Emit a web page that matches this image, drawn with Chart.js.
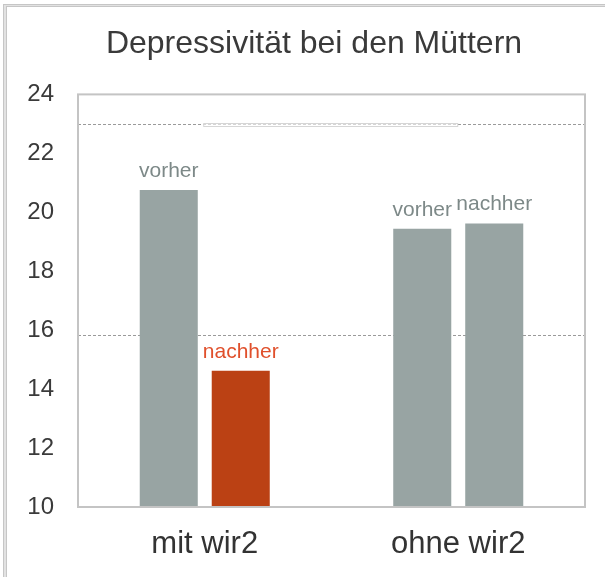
<!DOCTYPE html>
<html>
<head>
<meta charset="utf-8">
<script src="https://cdn.jsdelivr.net/npm/chart.js@4/dist/chart.umd.min.js"></script>
<style>
  html, body { margin: 0; padding: 0; background: #ffffff; }
  #wrap { position: relative; width: 605px; height: 577px; }
</style>
</head>
<body>
<div id="wrap"><canvas id="c" width="605" height="577"></canvas></div>
<script>
const categories = ['mit wir2', 'ohne wir2'];
const seriesNames = ['vorher', 'nachher'];
const vorherValues = [20.76, 19.44];
const nachherValues = [14.62, 19.62];
const yTicks = [10, 12, 14, 16, 18, 20, 22, 24];
const refLines = [23.0, 15.83];
const titleText = 'Depressivität bei den Müttern';

const GRAY = '#98a4a3';
const RED = '#bb4114';
const FONT = "'Liberation Sans', Arial, sans-serif";

const decorPlugin = {
  id: 'decor',
  beforeDraw(chart) {
    const ctx = chart.ctx;
    const W = chart.width, H = chart.height;
    ctx.save();
    // outer frame (left + top)
    ctx.fillStyle = '#e2e2e2';
    ctx.fillRect(3, 4, 4, H - 4);
    ctx.fillRect(3, 4, W - 3, 3);
    ctx.fillStyle = '#c6c6c6';
    ctx.fillRect(3, 4, 1, H - 4);
    ctx.fillRect(3, 4, W - 3, 1);
    ctx.fillRect(6, 7, 1, H - 7);
    ctx.fillRect(6, 6, W - 6, 1);
    // reference dashed lines
    const a = chart.chartArea;
    const y = chart.scales.y;
    ctx.strokeStyle = '#9a9a9a';
    ctx.lineWidth = 1;
    ctx.setLineDash([3, 2]);
    refLines.forEach(v => {
      const py = Math.round(y.getPixelForValue(v)) + 0.5;
      ctx.beginPath();
      ctx.moveTo(a.left, py);
      ctx.lineTo(a.right, py);
      ctx.stroke();
    });
    ctx.setLineDash([]);
    // small white box artifact over the upper line
    const py = Math.round(y.getPixelForValue(refLines[0]));
    const x0 = a.left + (a.right - a.left) * 0.247;
    const x1 = a.left + (a.right - a.left) * 0.748;
    ctx.fillStyle = 'rgba(255,255,255,0.6)';
    ctx.fillRect(x0, py - 1, x1 - x0, 4);
    ctx.strokeStyle = '#d6d6d6';
    ctx.strokeRect(x0 + 0.5, py - 0.5, x1 - x0, 3);
    ctx.restore();
  },
  afterDatasetsDraw(chart) {
    const ctx = chart.ctx;
    const a = chart.chartArea;
    ctx.save();
    // plot frame
    ctx.strokeStyle = '#c4c4c4';
    ctx.lineWidth = 2;
    ctx.strokeRect(a.left, a.top, a.right - a.left, a.bottom - a.top);
    // bar labels
    ctx.font = '21px ' + FONT;
    ctx.textAlign = 'center';
    ctx.textBaseline = 'alphabetic';
    chart.data.datasets.forEach((ds, di) => {
      const meta = chart.getDatasetMeta(di);
      meta.data.forEach((bar, i) => {
        const isRed = ds.backgroundColor[i] === RED;
        ctx.fillStyle = isRed ? '#e0502c' : '#7d8988';
        ctx.fillText(ds.label, bar.x, bar.y - 13);
      });
    });
    ctx.restore();
  }
};

new Chart(document.getElementById('c'), {
  type: 'bar',
  data: {
    labels: categories,
    datasets: [
      {
        label: seriesNames[0],
        data: vorherValues,
        backgroundColor: vorherValues.map(() => GRAY),
        borderWidth: 0,
        barPercentage: 0.806,
        categoryPercentage: 0.568
      },
      {
        label: seriesNames[1],
        data: nachherValues,
        backgroundColor: [RED, GRAY],
        borderWidth: 0,
        barPercentage: 0.806,
        categoryPercentage: 0.568
      }
    ]
  },
  options: {
    responsive: false,
    animation: false,
    devicePixelRatio: 1,
    layout: { padding: { top: 6, right: 0, bottom: 0, left: 23 } },
    plugins: {
      legend: { display: false },
      tooltip: { enabled: false },
      title: {
        display: true,
        text: titleText,
        color: '#3a3a3a',
        font: { family: FONT, size: 32, weight: 'normal', lineHeight: 1.2 },
        padding: { top: 19, bottom: 31 }
      }
    },
    scales: {
      x: {
        grid: { display: false, drawTicks: false },
        border: { display: false },
        ticks: {
          color: '#333333',
          font: { family: FONT, size: 31 },
          padding: 19,
          maxRotation: 0
        },
        afterFit(scale) { scale.height = 70; }
      },
      y: {
        min: 10,
        max: 24,
        grid: { display: false, drawTicks: false },
        border: { display: false },
        afterBuildTicks(scale) { scale.ticks = yTicks.map(v => ({ value: v })); },
        ticks: {
          color: '#3a3a3a',
          font: { family: FONT, size: 24 },
          padding: 24
        },
        afterFit(scale) { scale.width = 55; }
      },
      yRight: {
        position: 'right',
        min: 10,
        max: 24,
        grid: { display: false, drawTicks: false },
        border: { display: false },
        ticks: { display: false },
        afterFit(scale) { scale.width = 20; }
      }
    }
  },
  plugins: [decorPlugin]
});
</script>
</body>
</html>
